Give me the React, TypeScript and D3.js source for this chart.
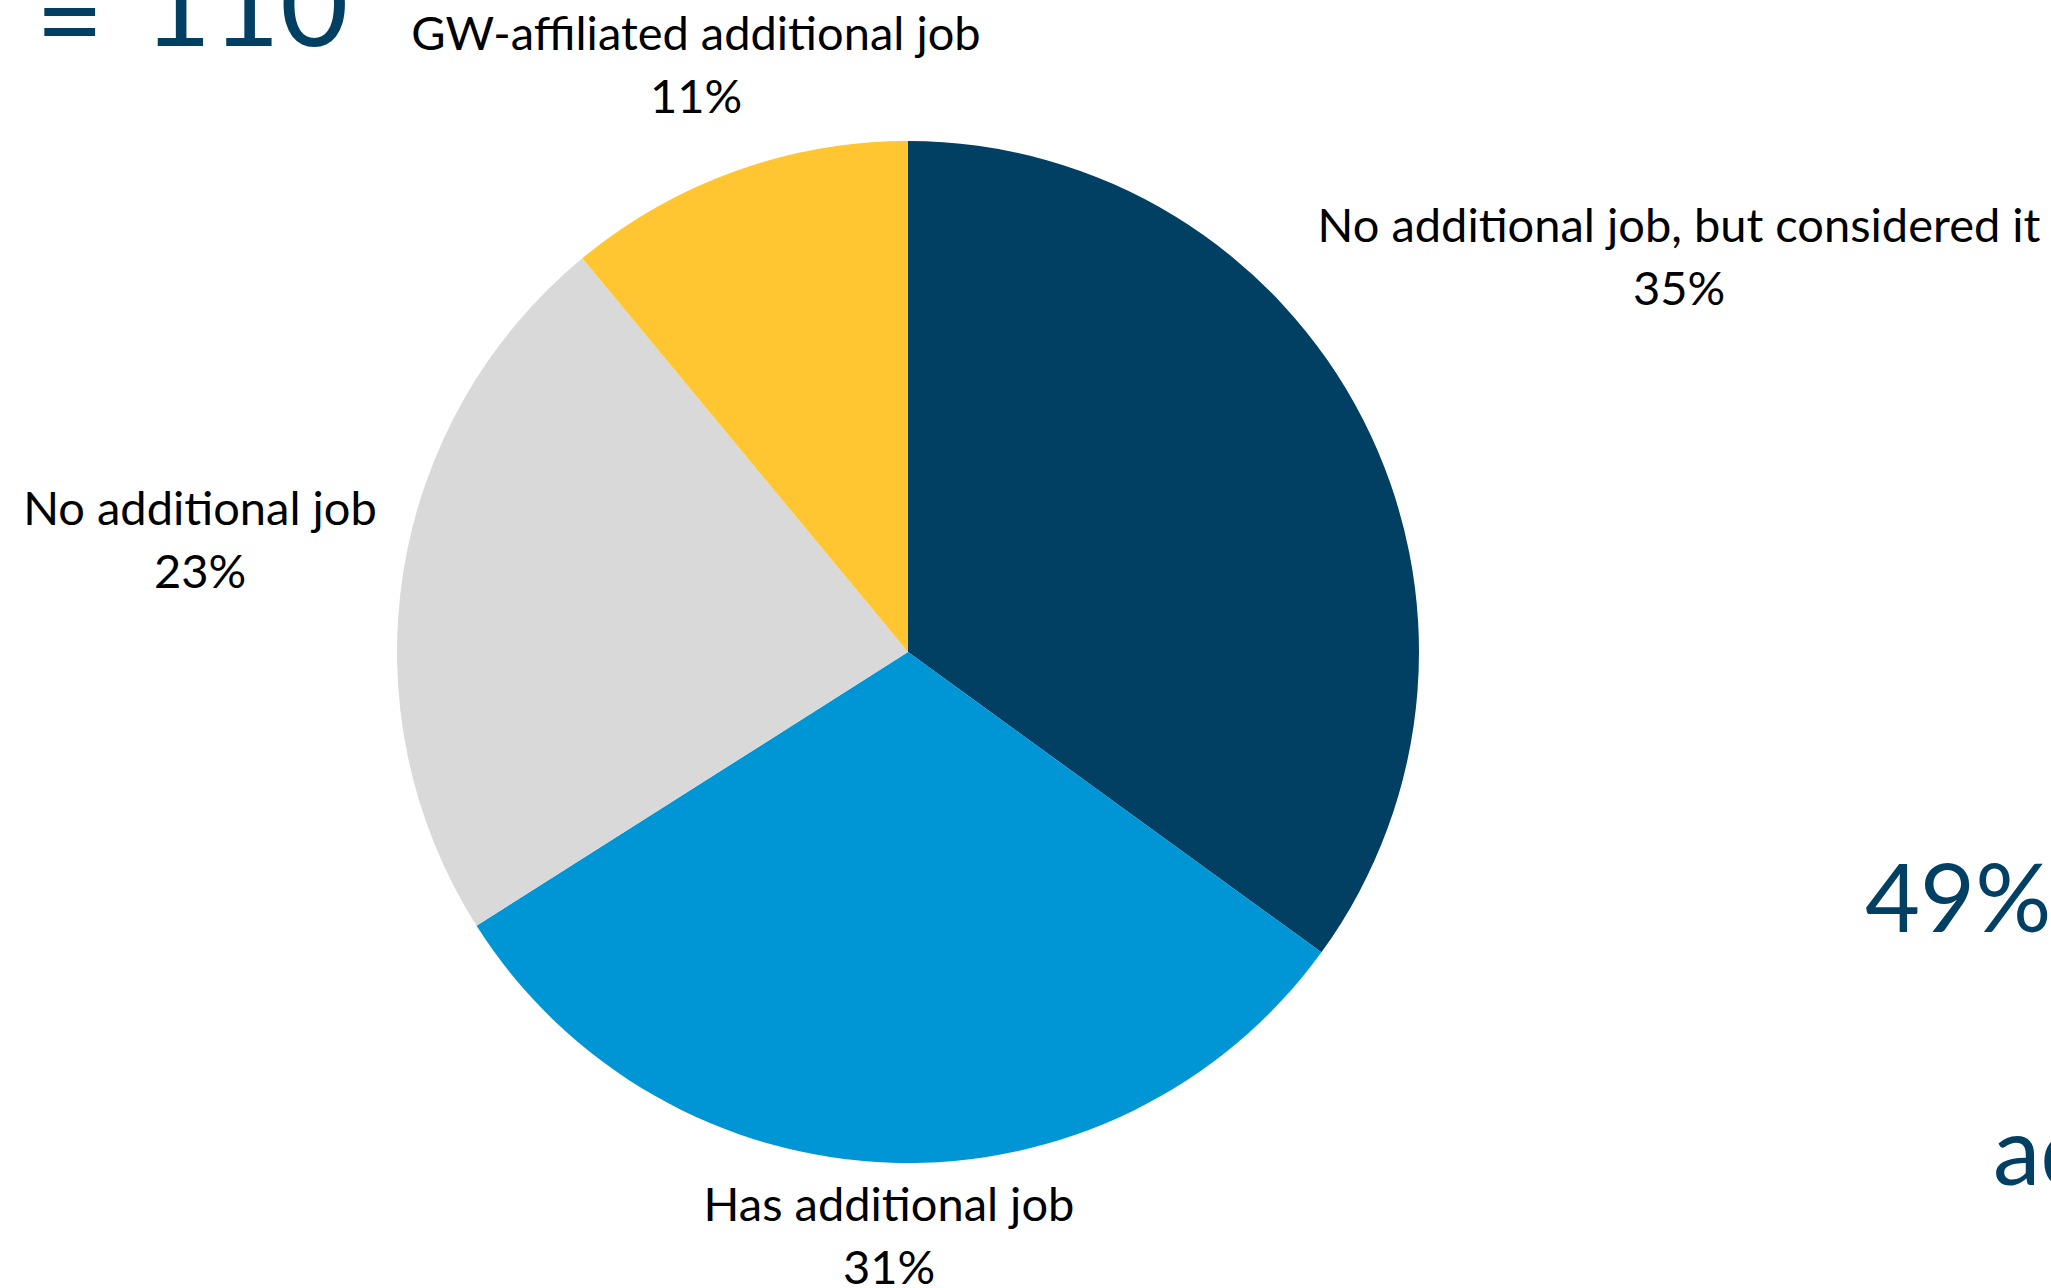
import React from "react";
import * as d3 from "d3";

const categories = [
  "No additional job, but considered it",
  "Has additional job",
  "No additional job",
  "GW-affiliated additional job",
];
const values = [35, 31, 23, 11];
const colors = ["#013F63", "#0096D6", "#D9D9D9", "#FFC632"];

const W = 2051;
const H = 1288;
const CX = 908;
const CY = 652;
const R = 511;

// label layout (center x, first baseline y)
const labelPos: [number, number][] = [
  [1679, 242],
  [889, 1221],
  [200, 525],
  [696, 50],
];

const FONT = "Lato, 'Open Sans', sans-serif";
const NAVY = "#013F63";

export default function App() {
  const pie = d3.pie<number>().value((d) => d).sort(null);
  const arcs = pie(values);
  const arc = d3.arc<d3.PieArcDatum<number>>().innerRadius(0).outerRadius(R);
  return (
    <div style={{ position: "fixed", left: 0, top: 0, width: W, height: H, overflow: "hidden", background: "#fff" }}>
      <svg width={W} height={H} style={{ display: "block" }}>
        <rect width={W} height={H} fill="#fff" />
        <text x={104} y={62} fontFamily={FONT} fontSize={118} fill={NAVY} textAnchor="end">
          N =
        </text>
        <text x={143} y={46} fontFamily={FONT} fontSize={118} fill={NAVY}>
          110
        </text>
        <g transform={`translate(${CX},${CY})`}>
          {arcs.map((a, i) => (
            <path key={i} d={arc(a) || ""} fill={colors[i]} />
          ))}
        </g>
        {arcs.map((a, i) => (
          <text key={i} fontFamily={FONT} fontSize={47} fill="#000" textAnchor="middle">
            <tspan x={labelPos[i][0]} y={labelPos[i][1]}>{categories[i]}</tspan>
            <tspan x={labelPos[i][0]} y={labelPos[i][1] + 63}>{`${values[i]}%`}</tspan>
          </text>
        ))}
        <text x={1865} y={932} fontFamily={FONT} fontSize={95} fill={NAVY}>
          49%
        </text>
        <text x={1993} y={1185} fontFamily={FONT} fontSize={95} fill={NAVY}>
          additional job
        </text>
      </svg>
    </div>
  );
}
